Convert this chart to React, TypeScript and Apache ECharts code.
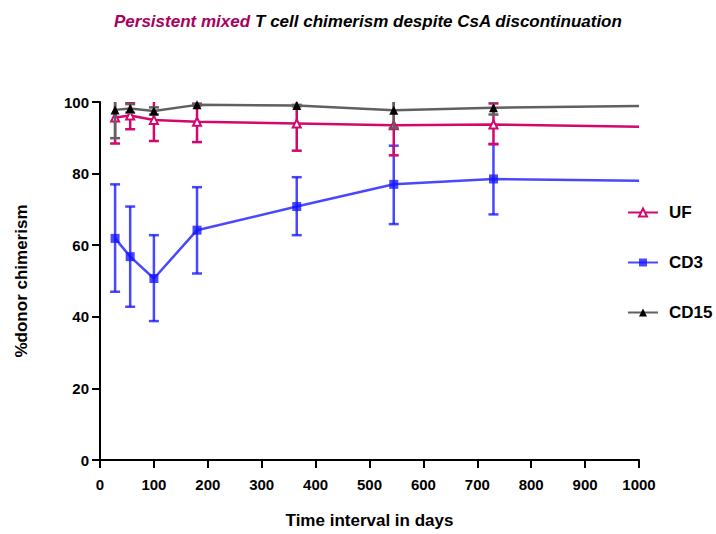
import React, { useEffect, useRef } from "react";
import * as echarts from "echarts";

const days = [28, 56, 100, 180, 365, 545, 730, 1000];

const ufMean = [95.7, 96.2, 95.0, 94.5, 94.0, 93.5, 93.7, 93.1];
const ufLow = [88.4, 92.4, 89.1, 88.8, 86.4, 85.1, 88.2];
const ufHigh = [103.0, 100.0, 100.9, 100.2, 101.6, 101.9, 99.6];

const cd3Mean = [61.9, 56.8, 50.7, 64.2, 70.8, 77.0, 78.5, 78.0];
const cd3Low = [47.0, 42.8, 38.8, 52.1, 62.8, 65.9, 68.6];
const cd3High = [77.0, 70.8, 62.8, 76.2, 79.0, 87.8, 88.3];

const cd15Mean = [97.8, 98.2, 97.5, 99.2, 99.0, 97.7, 98.4, 98.9];
const cd15Low = [89.9, 97.0, 96.5, 99.0, 98.8, 92.7, 96.5];
const cd15High = [105.7, 99.4, 98.5, 99.4, 99.2, 102.7, 100.3];

const xTicks = [0, 100, 200, 300, 400, 500, 600, 700, 800, 900, 1000];
const yTicks = [0, 20, 40, 60, 80, 100];

const UF_COLOR = "#d4086c";
const CD3_COLOR = "rgba(20,20,255,0.78)";
const CD15_COLOR = "#606060";

function errData(low: number[], high: number[]) {
  return low.map((l, i) => [days[i], l, high[i]]);
}

function lineData(mean: number[]) {
  return mean.map((m, i) => ({
    value: [days[i], m],
    symbolSize: days[i] === 1000 ? 0 : undefined,
  }));
}

function errSeries(name: string, color: string, low: number[], high: number[], z: number) {
  return {
    type: "custom",
    name: name + "_err",
    z,
    clip: true,
    silent: true,
    encode: { x: 0, y: [1, 2] },
    data: errData(low, high),
    renderItem: (params: any, api: any) => {
      const x = api.value(0);
      const p1 = api.coord([x, api.value(1)]);
      const p2 = api.coord([x, api.value(2)]);
      const hw = 5;
      const style = { stroke: color, lineWidth: 2.5, fill: "none" };
      return {
        type: "group",
        children: [
          { type: "line", shape: { x1: p1[0], y1: p1[1], x2: p2[0], y2: p2[1] }, style },
          { type: "line", shape: { x1: p1[0] - hw, y1: p1[1], x2: p1[0] + hw, y2: p1[1] }, style },
          { type: "line", shape: { x1: p2[0] - hw, y1: p2[1], x2: p2[0] + hw, y2: p2[1] }, style },
        ],
      };
    },
  };
}

export default function App() {
  const ref = useRef<HTMLDivElement>(null);
  useEffect(() => {
    if (!ref.current) return;
    const chart = echarts.init(ref.current, undefined, { renderer: "svg" });
    const font = "'Liberation Sans', Arial, sans-serif";
    chart.setOption({
      animation: false,
      backgroundColor: "#ffffff",
      textStyle: { fontFamily: font },
      title: {
        text: "{a|Persistent mixed} {b|T cell chimerism despite CsA discontinuation}",
        left: 109,
        top: 7,
        textStyle: {
          rich: {
            a: { color: "#a8005c", fontSize: 17, fontWeight: "bold", fontStyle: "italic", fontFamily: font },
            b: { color: "#000000", fontSize: 17, fontWeight: "bold", fontStyle: "italic", fontFamily: font },
          },
        },
      },
      legend: {
        orient: "vertical",
        left: 622,
        top: 199,
        itemWidth: 30,
        itemHeight: 10,
        itemGap: 33,
        data: ["UF", "CD3", "CD15"],
        textStyle: { fontSize: 17, fontWeight: "bold", color: "#000", fontFamily: font, padding: [0, 0, 0, 6] },
      },
      grid: { left: 100, right: 77, top: 102, bottom: 74, containLabel: false },
      xAxis: {
        type: "value",
        min: 0,
        max: 1000,
        interval: 100,
        name: "Time interval in days",
        nameLocation: "middle",
        nameGap: 52,
        nameTextStyle: { fontSize: 17, fontWeight: "bold", color: "#000", fontFamily: font },
        axisLine: { show: true, onZero: false, lineStyle: { color: "#000", width: 2 } },
        axisTick: { show: true, length: 8, lineStyle: { color: "#000", width: 2 } },
        axisLabel: {
          fontSize: 15, fontWeight: "bold", color: "#000", margin: 17, fontFamily: font,
          formatter: (v: number) => (xTicks.includes(v) ? String(v) : ""),
        },
        splitLine: { show: false },
      },
      yAxis: {
        type: "value",
        min: 0,
        max: 100,
        interval: 20,
        name: "%donor chimerism",
        nameLocation: "middle",
        nameGap: 70,
        nameRotate: 90,
        nameTextStyle: { fontSize: 17, fontWeight: "bold", color: "#000", fontFamily: font },
        axisLine: { show: true, onZero: false, lineStyle: { color: "#000", width: 2 } },
        axisTick: { show: true, length: 8, lineStyle: { color: "#000", width: 2 } },
        axisLabel: {
          fontSize: 15, fontWeight: "bold", color: "#000", margin: 11, fontFamily: font,
          formatter: (v: number) => (yTicks.includes(v) ? String(v) : ""),
        },
        splitLine: { show: false },
      },
      series: [
        errSeries("CD3", CD3_COLOR, cd3Low, cd3High, 2),
        {
          type: "line",
          name: "CD3",
          z: 3,
          data: lineData(cd3Mean),
          symbol: "rect",
          symbolSize: 9,
          lineStyle: { color: CD3_COLOR, width: 2.5 },
          itemStyle: { color: CD3_COLOR, borderWidth: 0 },
          clip: false,
        },
        errSeries("UF", UF_COLOR, ufLow, ufHigh, 4),
        {
          type: "line",
          name: "UF",
          z: 5,
          data: lineData(ufMean),
          symbol: "triangle",
          symbolSize: 8,
          lineStyle: { color: UF_COLOR, width: 2.5 },
          itemStyle: { color: "#ffffff", borderColor: UF_COLOR, borderWidth: 2 },
          clip: false,
        },
        errSeries("CD15", CD15_COLOR, cd15Low, cd15High, 6),
        {
          type: "line",
          name: "CD15",
          z: 7,
          data: lineData(cd15Mean),
          symbol: "triangle",
          symbolSize: 9,
          lineStyle: { color: CD15_COLOR, width: 2.5 },
          itemStyle: { color: "#000000", borderWidth: 0 },
          clip: false,
        },
      ],
    });
    return () => chart.dispose();
  }, []);
  return <div ref={ref} style={{ width: 716, height: 534, position: "absolute", left: 0, top: 0 }} />;
}
